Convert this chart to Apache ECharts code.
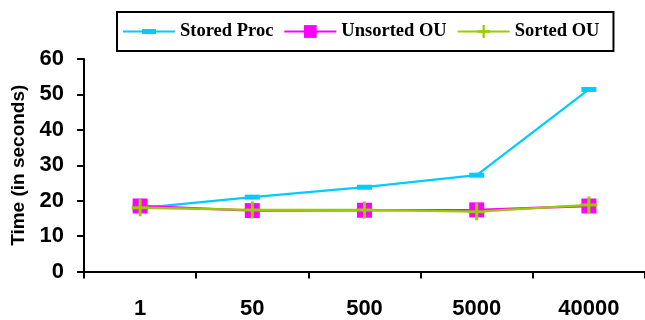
<!DOCTYPE html>
<html>
<head>
<meta charset="utf-8">
<script src="https://cdn.jsdelivr.net/npm/echarts@6/dist/echarts.min.js"></script>
<style>
html,body{margin:0;padding:0;background:#fff;}
#chart{width:645px;height:320px;}
</style>
</head>
<body>
<div id="chart"></div>
<script>
const categories = ['1', '50', '500', '5000', '40000'];
const storedProc = [17.9, 21.0, 23.8, 27.2, 51.4];
const unsortedOU = [18.5, 17.2, 17.3, 17.4, 18.5];
const sortedOU = [18.0, 17.4, 17.4, 16.9, 18.8];
const yTicks = { min: 0, max: 60, interval: 10 };
const seriesNames = ['Stored Proc', 'Unsorted OU', 'Sorted OU'];

const plusPath = 'path://M7,0h3v7h7v3h-7v7h-3v-7h-7v-3h7z';
const dashLegendPath = 'path://M0,1.5h52v2h-52z M19,0h14v5h-14z';

const chart = echarts.init(document.getElementById('chart'), null, { renderer: 'canvas' });
chart.setOption({
  animation: false,
  backgroundColor: '#ffffff',
  grid: { left: 84, right: -6, top: 59, bottom: 48.5, containLabel: false },
  legend: {
    left: 117, top: 12,
    padding: [10, 14, 10, 6],
    borderColor: '#000', borderWidth: 2,
    itemWidth: 52, itemHeight: 16, itemGap: 10,
    symbolKeepAspect: true,
    textStyle: { fontFamily: '"Liberation Serif", "Times New Roman", serif', fontWeight: 'bold', fontSize: 18.5, color: '#000' },
    data: [
      { name: seriesNames[0], icon: dashLegendPath },
      { name: seriesNames[1] },
      { name: seriesNames[2] }
    ]
  },
  xAxis: {
    type: 'category', data: categories, boundaryGap: true,
    axisLine: { lineStyle: { color: '#000', width: 2 } },
    axisTick: { show: true, inside: false, length: 7, lineStyle: { color: '#000', width: 2 } },
    axisLabel: { margin: 26, color: '#000', fontSize: 22, fontWeight: 'bold', fontFamily: '"Liberation Sans", Arial, sans-serif' },
    splitLine: { show: false }
  },
  yAxis: {
    type: 'value', min: yTicks.min, max: yTicks.max, interval: yTicks.interval,
    name: 'Time (in seconds)', nameLocation: 'middle', nameGap: 48, nameRotate: 90,
    nameTextStyle: { color: '#000', fontSize: 19, fontWeight: 'bold', fontFamily: '"Liberation Sans", Arial, sans-serif' },
    axisLine: { show: true, lineStyle: { color: '#000', width: 2 } },
    axisTick: { show: true, inside: false, length: 7, lineStyle: { color: '#000', width: 2 } },
    axisLabel: { margin: 20, color: '#000', fontSize: 22, fontWeight: 'bold', fontFamily: '"Liberation Sans", Arial, sans-serif' },
    splitLine: { show: false }
  },
  series: [
    {
      name: seriesNames[0], type: 'line', data: storedProc,
      symbol: 'rect', symbolSize: [15, 5], showAllSymbol: true,
      itemStyle: { color: '#00ccff' }, lineStyle: { color: '#00ccff', width: 2.3 }
    },
    {
      name: seriesNames[1], type: 'line', data: unsortedOU,
      symbol: 'rect', symbolSize: 15, showAllSymbol: true,
      itemStyle: { color: '#ff00ff' }, lineStyle: { color: '#ff00ff', width: 2.3 }
    },
    {
      name: seriesNames[2], type: 'line', data: sortedOU,
      symbol: plusPath, symbolSize: 17, showAllSymbol: true,
      itemStyle: { color: '#99cc00' }, lineStyle: { color: '#99cc00', width: 2.3 }
    }
  ]
});
</script>
</body>
</html>
